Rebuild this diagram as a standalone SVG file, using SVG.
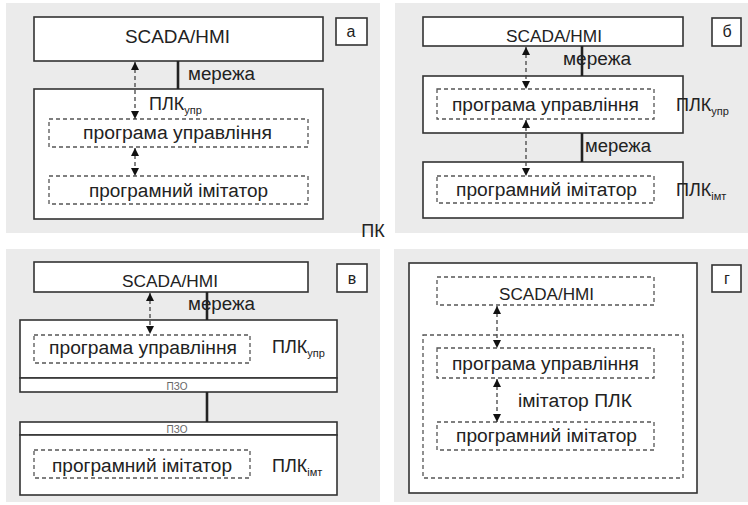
<svg xmlns="http://www.w3.org/2000/svg" width="748" height="505" viewBox="0 0 748 505">
<defs>
<style>
.bg{fill:#ebebeb}
.box{fill:#fff;stroke:#333;stroke-width:1.6}
.dbox{fill:none;stroke:#555;stroke-width:1.3;stroke-dasharray:4 3}
.net{stroke:#222;stroke-width:2.6}
.arr{stroke:#444;stroke-width:1.3;stroke-dasharray:4 3;marker-start:url(#ah);marker-end:url(#ah)}
text{font-family:"Liberation Sans",Arial,sans-serif;fill:#222}
.t{font-size:18px;text-anchor:middle}
.s{font-size:16px;text-anchor:middle}
.l{font-size:18px}
.sub{font-size:11px}
.pzo{font-size:10px;fill:#666;text-anchor:middle}
.lab{font-size:16px;text-anchor:middle}
</style>
<marker id="ah" viewBox="0 0 10 10" refX="10" refY="5" markerWidth="8" markerHeight="8" markerUnits="userSpaceOnUse" orient="auto-start-reverse">
<path d="M0,0 L10,5 L0,10 z" fill="#111"/>
</marker>
</defs>

<g id="backgrounds">
<rect class="bg" x="6" y="3" width="374" height="230"/>
<rect class="bg" x="395" y="3" width="353" height="230"/>
<rect class="bg" x="6" y="249" width="374" height="253"/>
<rect class="bg" x="394" y="249" width="354" height="253"/>
</g>

<text id="pk" x="373" y="237" class="l" text-anchor="middle" font-size="16">ПК</text>

<!-- Panel a -->
<g id="a-scada"><rect class="box" x="34" y="17" width="289" height="44"/><text class="t" x="177.5" y="43" textLength="105" lengthAdjust="spacingAndGlyphs">SCADA/HMI</text></g>
<g id="a-label"><rect class="box" x="336" y="18" width="31" height="27"/><text class="lab" x="351" y="37">а</text></g>
<g id="a-plc"><rect class="box" x="34" y="89" width="289" height="130"/><text class="l" x="149" y="110">ПЛК<tspan class="sub" dy="4">упр</tspan></text></g>
<g id="a-prog"><rect class="dbox" x="49" y="119" width="259" height="28"/><text class="t" x="177.5" y="139" textLength="189" lengthAdjust="spacingAndGlyphs">програма управління</text></g>
<g id="a-imit"><rect class="dbox" x="49" y="176" width="259" height="28"/><text class="t" x="178.5" y="197" textLength="179" lengthAdjust="spacingAndGlyphs">програмний імітатор</text></g>

<!-- Panel b -->
<g id="b-scada"><rect class="box" x="423" y="17" width="260" height="29"/><text class="s" x="554" y="42" textLength="96" lengthAdjust="spacingAndGlyphs">SCADA/HMI</text></g>
<g id="b-label"><rect class="box" x="712" y="18" width="29" height="28"/><text class="lab" x="727" y="37">б</text></g>
<g id="b-plcupr"><rect class="box" x="423" y="76" width="260" height="57"/><text class="l" x="676" y="111">ПЛК<tspan class="sub" dy="4">упр</tspan></text></g>
<g id="b-prog"><rect class="dbox" x="437" y="89" width="217" height="30"/><text class="t" x="545.5" y="111" textLength="187" lengthAdjust="spacingAndGlyphs">програма управління</text></g>
<g id="b-plcimt"><rect class="box" x="423" y="162" width="260" height="56"/><text class="l" x="676" y="196">ПЛК<tspan class="sub" dy="4">імт</tspan></text></g>
<g id="b-imit"><rect class="dbox" x="437" y="176" width="217" height="27"/><text class="t" x="546.5" y="196" textLength="181" lengthAdjust="spacingAndGlyphs">програмний імітатор</text></g>

<!-- Panel v -->
<g id="v-scada"><rect class="box" x="34" y="262" width="274" height="30"/><text class="s" x="170" y="287" textLength="96" lengthAdjust="spacingAndGlyphs">SCADA/HMI</text></g>
<g id="v-label"><rect class="box" x="337" y="264" width="30" height="28"/><text class="lab" x="352" y="284">в</text></g>
<g id="v-plcupr"><rect class="box" x="20" y="320" width="317" height="58"/><text class="l" x="272" y="353">ПЛК<tspan class="sub" dy="4">упр</tspan></text></g>
<g id="v-pzo1"><rect class="box" x="20" y="378" width="317" height="14"/><text class="pzo" x="177" y="390">ПЗО</text></g>
<g id="v-prog"><rect class="dbox" x="34" y="335" width="216" height="28"/><text class="t" x="143" y="354" textLength="188" lengthAdjust="spacingAndGlyphs">програма управління</text></g>
<g id="v-pzo2"><rect class="box" x="20" y="422" width="317" height="13"/><text class="pzo" x="177" y="433">ПЗО</text></g>
<g id="v-plcimt"><rect class="box" x="20" y="435" width="317" height="60"/><text class="l" x="272" y="472">ПЛК<tspan class="sub" dy="4">імт</tspan></text></g>
<g id="v-imit"><rect class="dbox" x="34" y="450" width="216" height="28"/><text class="t" x="142" y="472" textLength="180" lengthAdjust="spacingAndGlyphs">програмний імітатор</text></g>

<!-- Panel g -->
<g id="g-outer"><rect class="box" x="409" y="263" width="288" height="230"/></g>
<g id="g-label"><rect class="box" x="712" y="265" width="29" height="27"/><text class="lab" x="727" y="284">г</text></g>
<g id="g-scada"><rect class="dbox" x="437" y="277" width="217" height="28"/><text class="s" x="546.5" y="300" textLength="95" lengthAdjust="spacingAndGlyphs">SCADA/HMI</text></g>
<g id="g-imitplc"><rect class="dbox" x="423" y="335" width="260" height="143"/><text class="l" x="518" y="407" textLength="114" lengthAdjust="spacingAndGlyphs">імітатор ПЛК</text></g>
<g id="g-prog"><rect class="dbox" x="437" y="348" width="217" height="30"/><text class="t" x="545.5" y="370" textLength="187" lengthAdjust="spacingAndGlyphs">програма управління</text></g>
<g id="g-imit"><rect class="dbox" x="437" y="422" width="217" height="28"/><text class="t" x="546.5" y="442" textLength="181" lengthAdjust="spacingAndGlyphs">програмний імітатор</text></g>

<g id="connectors">
<line class="net" x1="178" y1="61" x2="178" y2="89"/>
<text class="l" x="188" y="80" textLength="67" lengthAdjust="spacingAndGlyphs">мережа</text>
<line class="arr" x1="135" y1="62" x2="135" y2="119"/>
<line class="arr" x1="135" y1="148" x2="135" y2="176"/>

<line class="net" x1="582" y1="46" x2="582" y2="76"/>
<text class="l" x="563" y="65" textLength="68" lengthAdjust="spacingAndGlyphs">мережа</text>
<line class="arr" x1="526" y1="47" x2="526" y2="89"/>
<line class="net" x1="582" y1="133" x2="582" y2="162"/>
<text class="l" x="585" y="152" textLength="66" lengthAdjust="spacingAndGlyphs">мережа</text>
<line class="arr" x1="526" y1="120" x2="526" y2="176"/>

<line class="net" x1="207" y1="292" x2="207" y2="320"/>
<text class="l" x="188" y="310" textLength="67" lengthAdjust="spacingAndGlyphs">мережа</text>
<line class="arr" x1="150" y1="293" x2="150" y2="334"/>
<line class="net" x1="207" y1="392" x2="207" y2="422"/>

<line class="arr" x1="497" y1="306" x2="497" y2="348"/>
<line class="arr" x1="497" y1="379" x2="497" y2="422"/>
</g>
</svg>
